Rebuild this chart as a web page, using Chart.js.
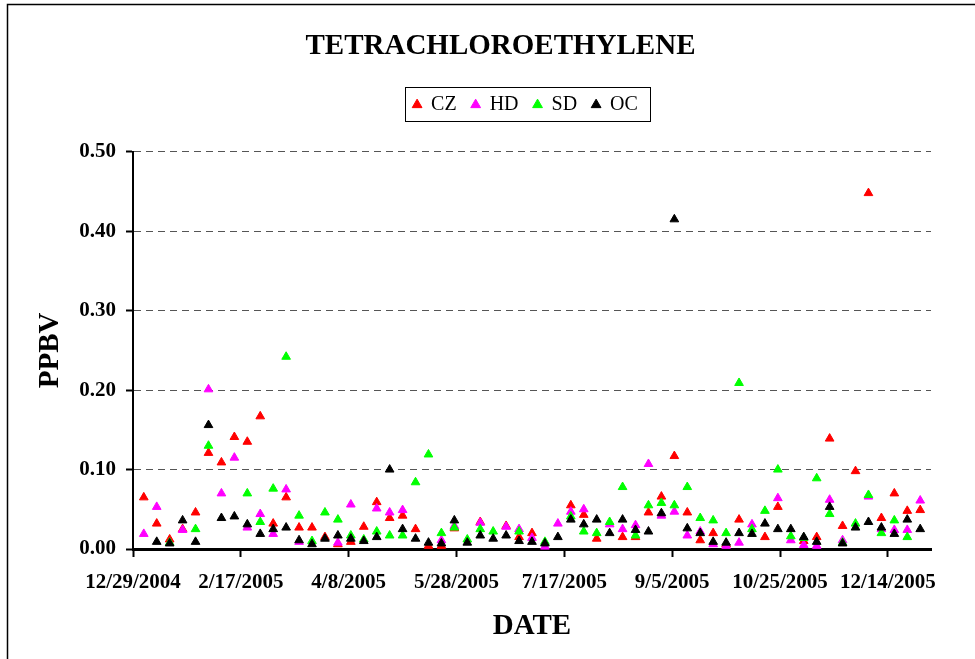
<!DOCTYPE html>
<html>
<head>
<meta charset="utf-8">
<script src="https://cdn.jsdelivr.net/npm/chart.js@4.4.0/dist/chart.umd.min.js"></script>
<style>
  html, body { margin: 0; padding: 0; background: #fff; }
  #wrap { width: 975px; height: 659px; position: relative; }
</style>
</head>
<body>
<div id="wrap"><canvas id="pceChart"></canvas></div>
<script>
// sampling days (every 6th day)
var sampleDates = [
  '1/3/2005', '1/9/2005', '1/15/2005', '1/21/2005', '1/27/2005', '2/2/2005', '2/8/2005', '2/14/2005',
  '2/20/2005', '2/26/2005', '3/4/2005', '3/10/2005', '3/16/2005', '3/22/2005', '3/28/2005', '4/3/2005',
  '4/9/2005', '4/15/2005', '4/21/2005', '4/27/2005', '5/3/2005', '5/9/2005', '5/15/2005', '5/21/2005',
  '5/27/2005', '6/2/2005', '6/8/2005', '6/14/2005', '6/20/2005', '6/26/2005', '7/2/2005', '7/8/2005',
  '7/14/2005', '7/20/2005', '7/26/2005', '8/1/2005', '8/7/2005', '8/13/2005', '8/19/2005', '8/25/2005',
  '8/31/2005', '9/6/2005', '9/12/2005', '9/18/2005', '9/24/2005', '9/30/2005', '10/6/2005', '10/12/2005',
  '10/18/2005', '10/24/2005', '10/30/2005', '11/5/2005', '11/11/2005', '11/17/2005', '11/23/2005', '11/29/2005',
  '12/5/2005', '12/11/2005', '12/17/2005', '12/23/2005', '12/29/2005'
];

var czValues = [
  0.065, 0.032, 0.012, 0.025, 0.046, 0.121, 0.109, 0.141, 0.135, 0.167, 0.032, 0.065, 0.027, 0.027, 0.015, 0.006,
  0.009, 0.028, 0.059, 0.039, 0.042, 0.025, 0.004, 0.004, 0.026, null, 0.034, null, 0.029, 0.015, 0.020, null,
  null, 0.055, 0.043, 0.013, null, 0.015, 0.015, 0.046, 0.066, 0.117, 0.046, 0.011, 0.020, 0.006, 0.037, null,
  0.015, 0.053, null, 0.010, 0.015, 0.139, 0.029, 0.098, 0.448, 0.039, 0.070, 0.048, 0.049
];
var hdValues = [
  0.019, 0.053, null, 0.024, null, 0.201, 0.070, 0.115, 0.027, 0.044, 0.019, 0.075, 0.009, null, null, 0.008,
  0.056, null, 0.051, 0.046, 0.049, null, null, 0.011, 0.029, null, 0.033, null, 0.028, 0.025, 0.014, 0.003,
  0.032, 0.047, 0.050, null, 0.031, 0.025, 0.030, 0.107, 0.042, 0.047, 0.017, 0.022, 0.006, 0.004, 0.008, 0.031,
  null, 0.064, 0.011, 0.005, 0.004, 0.062, 0.011, null, 0.066, 0.025, 0.024, 0.024, 0.061
];
var sdValues = [
  null, null, 0.008, null, 0.025, 0.130, null, null, 0.070, 0.034, 0.076, 0.242, 0.042, 0.010, 0.046, 0.037,
  0.017, 0.012, 0.022, 0.017, 0.017, 0.084, 0.119, 0.020, 0.027, 0.012, 0.025, 0.022, null, 0.022, null, 0.009,
  null, 0.041, 0.022, 0.020, 0.034, 0.078, 0.017, 0.055, 0.058, 0.055, 0.078, 0.039, 0.036, 0.020, 0.209, 0.025,
  0.048, 0.100, 0.016, 0.014, 0.089, 0.044, 0.008, 0.032, 0.068, 0.020, 0.036, 0.015, null
];
var ocValues = [
  null, 0.009, 0.007, 0.036, 0.009, 0.156, 0.039, 0.041, 0.031, 0.019, 0.025, 0.027, 0.011, 0.006, 0.013, 0.017,
  0.013, 0.010, 0.015, 0.100, 0.025, 0.013, 0.008, 0.007, 0.036, 0.008, 0.017, 0.013, 0.017, 0.010, 0.009, 0.007,
  0.015, 0.037, 0.031, 0.037, 0.020, 0.037, 0.024, 0.022, 0.045, 0.415, 0.026, 0.020, 0.009, 0.008, 0.020, 0.019,
  0.032, 0.025, 0.025, 0.015, 0.009, 0.053, 0.007, 0.027, 0.034, 0.027, 0.019, 0.037, 0.025
];

var yTicks = [0, 0.1, 0.2, 0.3, 0.4, 0.5];
var axisStart = '12/29/2004';
var axisEnd = '1/3/2006';
var tickStepDays = 50;

var serif = '"Liberation Serif", "Times New Roman", serif';

function parseDate(s) {
  var p = s.split('/');
  return new Date(+p[2], +p[0] - 1, +p[1]);
}
function dayNumber(s) {
  return Math.round((parseDate(s) - parseDate(axisStart)) / 86400000);
}
function dateLabel(day) {
  var d = parseDate(axisStart);
  d.setDate(d.getDate() + day);
  return (d.getMonth() + 1) + '/' + d.getDate() + '/' + d.getFullYear();
}
function toPoints(values) {
  var pts = [];
  for (var i = 0; i < values.length; i++) {
    if (values[i] !== null) pts.push({ x: dayNumber(sampleDates[i]), y: values[i] });
  }
  return pts;
}
function series(label, values, color) {
  return {
    label: label,
    data: toPoints(values),
    xAxisID: 'x',
    yAxisID: 'y',
    pointStyle: 'triangle',
    pointRadius: 5,
    pointHoverRadius: 5,
    backgroundColor: color,
    borderColor: color,
    borderWidth: 1,
    showLine: false,
    clip: false
  };
}

var titleShift = 35;
var legendShift = 60;

// page frame, white background, legend box
var framePlugin = {
  id: 'frame',
  beforeDraw: function(chart) {
    var ctx = chart.ctx;
    ctx.save();
    ctx.fillStyle = '#fff';
    ctx.fillRect(0, 0, chart.width, chart.height);
    ctx.strokeStyle = '#000';
    ctx.lineWidth = 1.5;
    ctx.strokeRect(7.5, 4.5, chart.width + 20, chart.height + 20);
    ctx.restore();
  },
  afterLayout: function(chart) {
    // title and legend sit right of the plot centre in the original
    chart.titleBlock.left += titleShift;
    chart.titleBlock.right += titleShift;
    chart.legend.left += legendShift;
    chart.legend.right += legendShift;
    (chart.legend.legendHitBoxes || []).forEach(function(b) { b.left += legendShift; });
  },
  afterDraw: function(chart) {
    var boxes = chart.legend.legendHitBoxes;
    if (!boxes || !boxes.length) return;
    var l = Infinity, r = -Infinity, cy = 0;
    boxes.forEach(function(b) {
      l = Math.min(l, b.left);
      r = Math.max(r, b.left + b.width);
      cy = b.top + b.height / 2;
    });
    var ctx = chart.ctx;
    ctx.save();
    ctx.strokeStyle = '#000';
    ctx.lineWidth = 1;
    ctx.strokeRect(Math.round(l - 8) + 0.5, Math.round(cy - 18) + 0.5, Math.round(r - l + 20), 34);
    ctx.restore();
  }
};

new Chart(document.getElementById('pceChart'), {
  type: 'scatter',
  data: {
    datasets: [
      series('OC', ocValues, '#000000'),
      series('SD', sdValues, '#00FF00'),
      series('HD', hdValues, '#FF00FF'),
      series('CZ', czValues, '#FF0000')
    ]
  },
  options: {
    responsive: true,
    maintainAspectRatio: false,
    animation: false,
    layout: { padding: { left: 0, right: 44, top: 0, bottom: 0 } },
    plugins: {
      title: {
        display: true,
        text: 'TETRACHLOROETHYLENE',
        color: '#000',
        font: { family: serif, size: 29, weight: 'bold' },
        padding: { top: 29, bottom: 16 }
      },
      legend: {
        display: true,
        reverse: true,
        labels: {
          usePointStyle: true,
          boxWidth: 8,
          boxHeight: 8,
          padding: 15,
          color: '#000',
          font: { family: serif, size: 20 }
        }
      },
      tooltip: { enabled: false }
    },
    scales: {
      x: {
        type: 'linear',
        position: 'bottom',
        min: 0,
        max: dayNumber(axisEnd),
        afterBuildTicks: function(s) {
          var ticks = [];
          for (var v = 0; v <= s.max; v += tickStepDays) ticks.push({ value: v });
          s.ticks = ticks;
        },
        afterFit: function(s) { s.height = 110; },
        ticks: {
          stepSize: tickStepDays,
          autoSkip: false,
          maxRotation: 0,
          padding: 13,
          color: '#000',
          font: { family: serif, size: 21, weight: 'bold' },
          callback: function(v) { return dateLabel(v); }
        },
        grid: {
          drawOnChartArea: false,
          drawTicks: true,
          tickLength: 8,
          tickColor: '#000',
          tickWidth: 2
        },
        border: { display: true, color: '#000', width: 3 },
        title: {
          display: true,
          text: 'DATE',
          color: '#000',
          font: { family: serif, size: 29, weight: 'bold' },
          padding: { top: 15, bottom: 15 }
        }
      },
      xTop: {
        type: 'linear',
        position: 'top',
        display: true,
        ticks: { display: false },
        grid: { display: false },
        border: { display: false },
        afterFit: function(s) { s.height = 27; }
      },
      y: {
        min: yTicks[0],
        max: yTicks[yTicks.length - 1],
        afterFit: function(s) { s.width = 133; },
        ticks: {
          stepSize: 0.1,
          padding: 10,
          color: '#000',
          font: { family: serif, size: 21, weight: 'bold' },
          callback: function(v) { return v.toFixed(2); }
        },
        grid: {
          color: function(c) { return c.tick && c.tick.value === 0 ? 'rgba(0,0,0,0)' : '#555'; },
          lineWidth: 1,
          tickLength: 7,
          tickColor: '#000',
          tickWidth: 2
        },
        border: { display: true, color: '#000', width: 2, dash: [7, 5] },
        title: {
          display: true,
          text: 'PPBV',
          color: '#000',
          font: { family: serif, size: 29, weight: 'bold' },
          padding: { top: 33, bottom: 33 }
        }
      }
    }
  },
  plugins: [framePlugin]
});
</script>
</body>
</html>
